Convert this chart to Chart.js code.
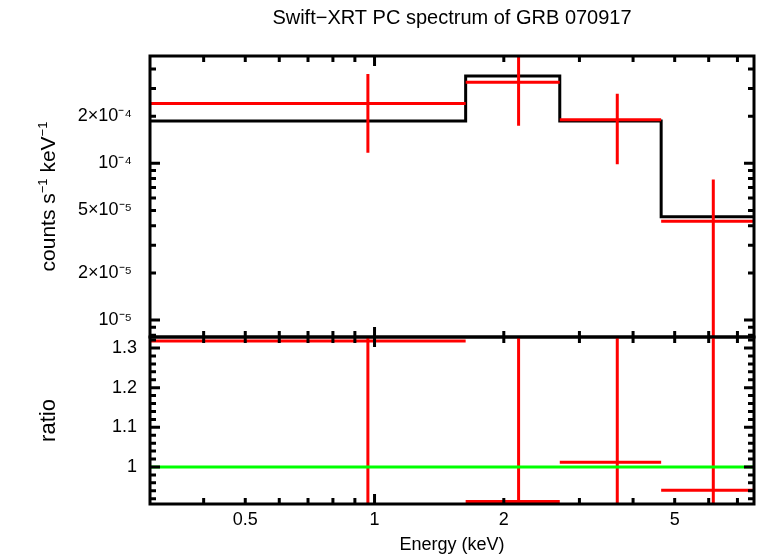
<!DOCTYPE html>
<html>
<head>
<meta charset="utf-8">
<script src="https://cdn.jsdelivr.net/npm/chart.js@4.4.1/dist/chart.umd.min.js"></script>
<style>
  html, body { margin: 0; padding: 0; background: #fff; }
  #wrap { position: relative; width: 758px; height: 556px; overflow: hidden; background: #fff; }
  #specChart { position: absolute; left: 0; top: 0; }
  #ratioChart { position: absolute; left: 0; top: 313px; }
</style>
</head>
<body>
<div id="wrap">
  <canvas id="specChart" width="758" height="366"></canvas>
  <canvas id="ratioChart" width="758" height="243"></canvas>
</div>
<script>
// energy bins (keV)
const binLow    = [0.3, 1.63, 2.70, 4.65];
const binHigh   = [1.63, 2.70, 4.65, 7.65];
const binCenter = [0.965, 2.165, 3.675, 6.15];

// counts s-1 keV-1
const rate     = [2.41e-4, 3.29e-4, 1.90e-4, 4.27e-5];
const rateLow  = [1.17e-4, 1.74e-4, 0.985e-4, 1e-7];
const rateHigh = [3.71e-4, 5.2e-4, 2.78e-4, 7.9e-5];
const model    = [1.86e-4, 3.61e-4, 1.86e-4, 4.56e-5];

// data / model
const ratio     = [1.318, 0.913, 1.012, 0.941];
const ratioLow  = [0.63, 0.48, 0.53, 0.0];
const ratioHigh = [2.0, 1.4, 1.5, 1.9];
const unity = 1;

// axes
const energyRange = [0.3, 7.65];
const specRange = [7.8e-6, 4.84e-4];
const ratioRange = [0.9066, 1.3278];
const energyTickValues = [0.5, 1, 2, 5];
const energyTickLabels = ['0.5', '1', '2', '5'];
const energyMajor = [1];
const energyMinor = [0.4, 0.5, 0.6, 0.7, 0.8, 0.9, 2, 3, 4, 5, 6, 7];
const specTickValues = [1e-5, 2e-5, 5e-5, 1e-4, 2e-4];
const specTickLabels = ['10\u207B\u2075', '2\u00D710\u207B\u2075', '5\u00D710\u207B\u2075', '10\u207B\u2074', '2\u00D710\u207B\u2074'];
const specMajor = [1e-5, 1e-4];
const specMinor = [8e-6, 9e-6, 2e-5, 3e-5, 4e-5, 5e-5, 6e-5, 7e-5, 8e-5, 9e-5, 2e-4, 3e-4, 4e-4];
const ratioTickValues = [1, 1.1, 1.2, 1.3];
const ratioTickLabels = ['1', '1.1', '1.2', '1.3'];
const ratioMinor = [];
for (let v = 0.92; v < 1.325; v += 0.02) ratioMinor.push(Math.round(v * 100) / 100);

const RED = '#ff0000';
const FONT = '"Liberation Sans", Arial, Helvetica, sans-serif';

Chart.defaults.font.family = FONT;
Chart.defaults.font.size = 18;
Chart.defaults.color = '#000';

// frame with inward ticks on all four sides
const framePlugin = {
  id: 'frame',
  afterDatasetsDraw(chart, args, opts) {
    const {ctx, chartArea: a} = chart;
    const xs = chart.scales.x, ys = chart.scales.y;
    ctx.save();
    ctx.strokeStyle = '#000';
    ctx.lineWidth = 3;
    ctx.beginPath();
    const xt = (list, len) => list.forEach(v => {
      const px = xs.getPixelForValue(v);
      ctx.moveTo(px, a.top); ctx.lineTo(px, a.top + len);
      ctx.moveTo(px, a.bottom); ctx.lineTo(px, a.bottom - len);
    });
    const yt = (list, len) => list.forEach(v => {
      const py = ys.getPixelForValue(v);
      ctx.moveTo(a.left, py); ctx.lineTo(a.left + len, py);
      ctx.moveTo(a.right, py); ctx.lineTo(a.right - len, py);
    });
    xt(opts.xMinor || [], 6);
    xt(opts.xMajor || [], 10);
    yt(opts.yMinor || [], 6);
    yt(opts.yMajor || [], 10);
    ctx.stroke();
    ctx.strokeRect(a.left, a.top, a.right - a.left, a.bottom - a.top);
    ctx.restore();
  }
};

// y title with real superscripts: counts s^-1 keV^-1
const unitTitlePlugin = {
  id: 'unitTitle',
  afterDraw(chart, args, opts) {
    const {ctx, chartArea: a} = chart;
    const parts = opts.parts || [];
    ctx.save();
    ctx.fillStyle = '#000';
    ctx.textBaseline = 'alphabetic';
    let total = 0;
    parts.forEach(p => { ctx.font = p.size + 'px ' + FONT; total += ctx.measureText(p.text).width; });
    ctx.translate(opts.x, (a.top + a.bottom) / 2);
    ctx.rotate(-Math.PI / 2);
    let pos = -total / 2;
    parts.forEach(p => {
      ctx.font = p.size + 'px ' + FONT;
      ctx.fillText(p.text, pos, p.rise);
      pos += ctx.measureText(p.text).width;
    });
    ctx.restore();
  }
};

function steps(values) {
  return binLow.flatMap((lo, i) => [{x: lo, y: values[i]}, {x: binHigh[i], y: values[i]}]);
}
function horizontals(values) {
  return binLow.flatMap((lo, i) => [{x: lo, y: values[i]}, {x: binHigh[i], y: values[i]}, {x: binHigh[i], y: null}]);
}
function verticals(lows, highs) {
  return binCenter.flatMap((c, i) => [{x: c, y: lows[i]}, {x: c, y: highs[i]}, {x: c, y: null}]);
}
function lineSet(data, color) {
  return {data, borderColor: color, borderWidth: 3, pointRadius: 0, showLine: true, spanGaps: false, tension: 0};
}

const energyAxis = (show) => {
  const axis = {
    type: 'logarithmic',
    min: energyRange[0],
    max: energyRange[1],
    display: show,
    grid: {display: false, drawTicks: false},
    border: {display: false},
    afterBuildTicks: s => { s.ticks = energyTickValues.map(v => ({value: v})); },
    ticks: {padding: 5, autoSkip: false, maxRotation: 0, callback: (v, i) => energyTickLabels[i]},
    title: {display: show, text: 'Energy (keV)', padding: 0, font: {size: 18}}
  };
  if (show) axis.afterFit = s => { s.height = 52; };
  return axis;
};

new Chart(document.getElementById('specChart'), {
  type: 'scatter',
  data: {
    datasets: [
      lineSet(horizontals(rate), RED),
      lineSet(verticals(rateLow, rateHigh), RED),
      lineSet(steps(model), '#000')
    ]
  },
  options: {
    responsive: false,
    animation: false,
    devicePixelRatio: 1,
    layout: {padding: {left: 38, right: 4, top: 0, bottom: 29}},
    plugins: {
      legend: {display: false},
      tooltip: {enabled: false},
      title: {
        display: true,
        fullSize: false,
        text: 'Swift\u2212XRT PC spectrum of GRB 070917',
        font: {size: 20, weight: 'normal'},
        color: '#000',
        padding: {top: 6, bottom: 26}
      },
      frame: {xMajor: energyMajor, xMinor: energyMinor, yMajor: specMajor, yMinor: specMinor},
      unitTitle: {
        x: 55,
        parts: [
          {text: 'counts s', size: 21, rise: 0},
          {text: '\u22121', size: 13, rise: -8},
          {text: ' keV', size: 21, rise: 0},
          {text: '\u22121', size: 13, rise: -8}
        ]
      }
    },
    scales: {
      x: energyAxis(false),
      y: {
        type: 'logarithmic',
        min: specRange[0],
        max: specRange[1],
        grid: {display: false, drawTicks: false},
        border: {display: false},
        afterBuildTicks: s => { s.ticks = specTickValues.map(v => ({value: v})); },
        ticks: {padding: 18, autoSkip: false, callback: (v, i) => specTickLabels[i]},
        afterFit: s => { s.width = 112; }
      }
    }
  },
  plugins: [framePlugin, unitTitlePlugin]
});

new Chart(document.getElementById('ratioChart'), {
  type: 'scatter',
  data: {
    datasets: [
      lineSet([{x: energyRange[0], y: unity}, {x: energyRange[1], y: unity}], '#00ff00'),
      lineSet(horizontals(ratio), RED),
      lineSet(verticals(ratioLow, ratioHigh), RED)
    ]
  },
  options: {
    responsive: false,
    animation: false,
    devicePixelRatio: 1,
    layout: {padding: {left: 36, right: 4, top: 24, bottom: 0}},
    plugins: {
      legend: {display: false},
      tooltip: {enabled: false},
      frame: {xMajor: energyMajor, xMinor: energyMinor, yMajor: ratioTickValues, yMinor: ratioMinor}
    },
    scales: {
      x: energyAxis(true),
      y: {
        type: 'linear',
        min: ratioRange[0],
        max: ratioRange[1],
        grid: {display: false, drawTicks: false},
        border: {display: false},
        afterBuildTicks: s => { s.ticks = ratioTickValues.map(v => ({value: v})); },
        ticks: {padding: 13, autoSkip: false, callback: (v, i) => ratioTickLabels[i]},
        title: {display: true, text: 'ratio', padding: 0, font: {size: 22}},
        afterFit: s => { s.width = 114; }
      }
    }
  },
  plugins: [framePlugin]
});
</script>
</body>
</html>
